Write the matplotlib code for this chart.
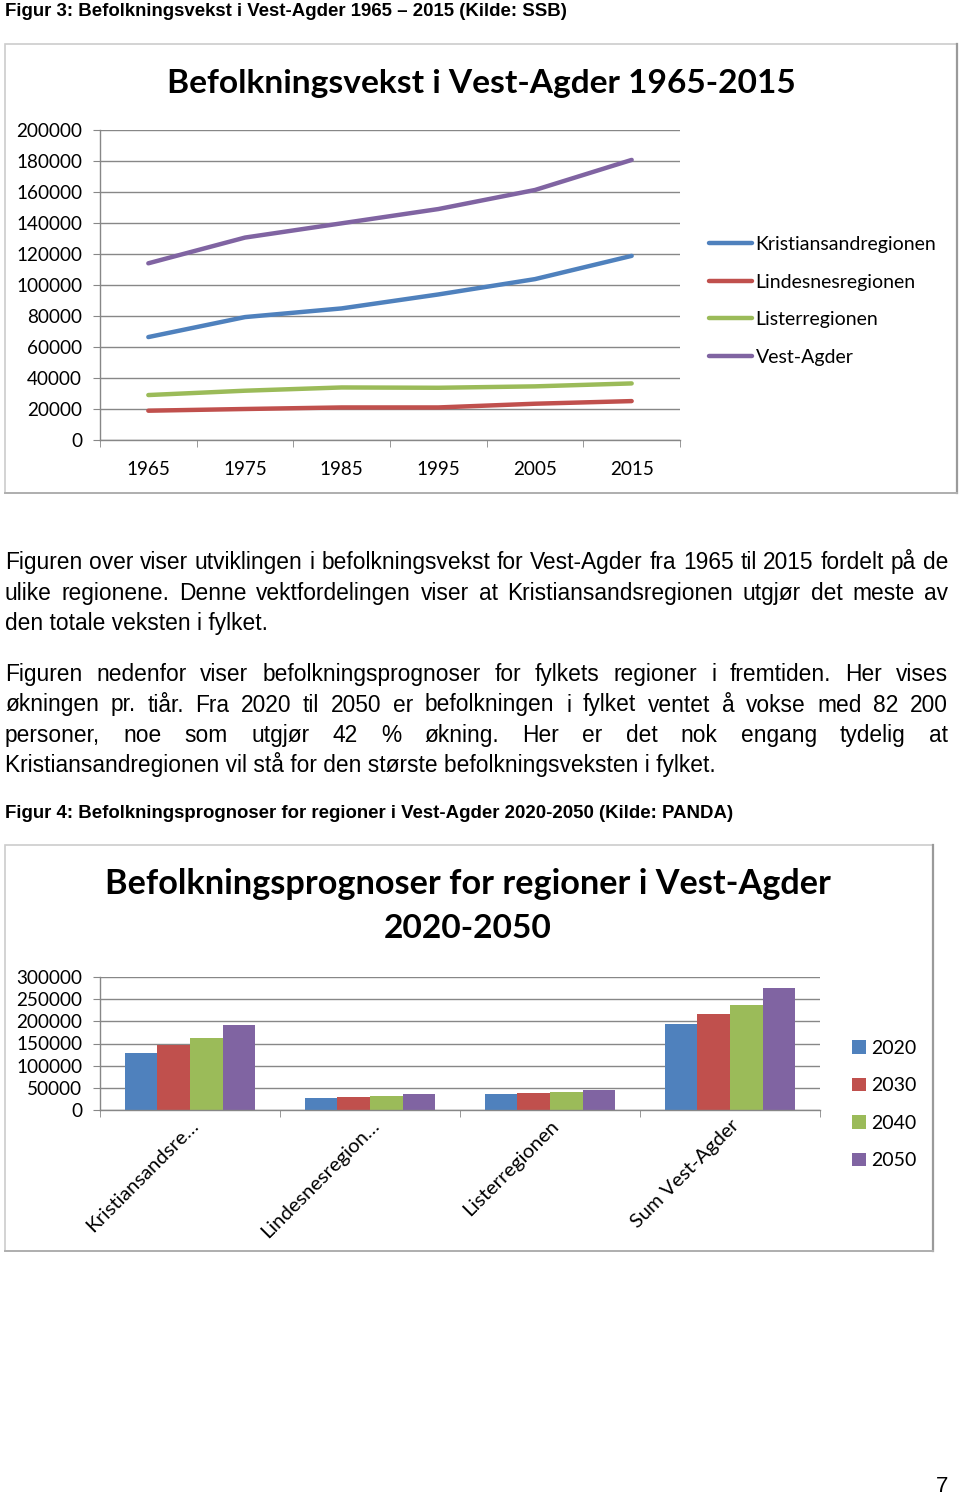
import matplotlib
matplotlib.use('Agg')
import matplotlib.pyplot as plt
from matplotlib.patches import Rectangle
from matplotlib.lines import Line2D
import numpy as np

W, H = 960, 1496

# Figur 3 - befolkning 1965-2015
years = ['1965', '1975', '1985', '1995', '2005', '2015']
kristiansand = [66400, 79300, 84900, 93900, 103800, 118800]
lindesnes = [18900, 20000, 21000, 21000, 23400, 25100]
lister = [29000, 31800, 33900, 33700, 34600, 36500]
vest_agder = [114000, 130600, 139800, 149000, 161300, 180700]
line_names = ['Kristiansandregionen', 'Lindesnesregionen', 'Listerregionen', 'Vest-Agder']

# Figur 4 - prognoser 2020-2050
regions = ['Kristiansandsre…', 'Lindesnesregion…', 'Listerregionen', 'Sum Vest-Agder']
prog_years = ['2020', '2030', '2040', '2050']
prog_2020 = [128800, 26500, 37100, 193900]
prog_2030 = [146200, 28800, 38600, 215900]
prog_2040 = [162900, 31000, 40900, 237100]
prog_2050 = [192400, 36400, 44700, 275800]

colors = ['#4F81BD', '#C0504D', '#9BBB59', '#8064A2']
grid_c = '#878787'
CHART = 'Lato'
BODY = 'Liberation Sans'

fig = plt.figure(figsize=(W / 100, H / 100), dpi=100)
renderer = fig.canvas.get_renderer()


def fx(x):
    return x / W


def fy(y):
    return 1 - y / H


def txt(x, y, s, **kw):
    return fig.text(fx(x), fy(y), s, **kw)


def fit(s, width, **kw):
    t = fig.text(0, 0, s, fontsize=10, **kw)
    w = t.get_window_extent(renderer).width
    t.remove()
    return 10 * width / w


def frame(x0, y0, x1, y1):
    fig.add_artist(Rectangle((fx(x0), fy(y1)), (x1 - x0) / W, (y1 - y0) / H,
                             transform=fig.transFigure, fill=False, ec='#cccccc', lw=1.2))
    fig.add_artist(Line2D([fx(x1), fx(x1)], [fy(y0), fy(y1)], transform=fig.transFigure,
                          color='#9a9a9a', lw=1.6))
    fig.add_artist(Line2D([fx(x0), fx(x1)], [fy(y1), fy(y1)], transform=fig.transFigure,
                          color='#b0b0b0', lw=1.4))


def body_line(s, y, justify=True, x0=5, x1=948, size=16.4):
    if not justify:
        txt(x0, y, s, family=BODY, fontsize=size, va='baseline')
        return
    words = s.split(' ')
    ts = [txt(0, y, w, family=BODY, fontsize=size, va='baseline') for w in words]
    ws = [t.get_window_extent(renderer).width for t in ts]
    gap = (x1 - x0 - sum(ws)) / (len(ws) - 1)
    x = x0
    for t, w in zip(ts, ws):
        t.set_x(fx(x))
        x += w + gap


def style_axes(ax):
    for s in ['top', 'right']:
        ax.spines[s].set_visible(False)
    for s in ['left', 'bottom']:
        ax.spines[s].set_color(grid_c)
        ax.spines[s].set_linewidth(1)
    ax.yaxis.grid(True, color=grid_c, lw=1)
    ax.set_axisbelow(True)
    ax.tick_params(axis='y', length=5, color=grid_c, pad=8, labelsize=13.6)
    for lab in ax.get_yticklabels() + ax.get_xticklabels():
        lab.set_family(CHART)


# captions
cap1 = 'Figur 3: Befolkningsvekst i Vest-Agder 1965 – 2015 (Kilde: SSB)'
cap2 = 'Figur 4: Befolkningsprognoser for regioner i Vest-Agder 2020-2050 (Kilde: PANDA)'
cs = fit(cap1, 567, family=BODY, weight='bold')
txt(5, 15.5, cap1, family=BODY, weight='bold', fontsize=cs, va='baseline')
txt(5, 817.5, cap2, family=BODY, weight='bold', fontsize=cs, va='baseline')

# ---------- chart 1 ----------
frame(5, 44, 957, 493)
t1 = 'Befolkningsvekst i Vest-Agder 1965-2015'
ts = fit(t1, 630, family=CHART, weight='bold')
txt(481, 84, t1, family=CHART, weight='bold', fontsize=ts, ha='center', va='center')

ax1 = fig.add_axes([fx(100), fy(440), (680 - 100) / W, (440 - 130) / H])
xs = np.arange(len(years))
for series, name, c in zip([kristiansand, lindesnes, lister, vest_agder], line_names, colors):
    ax1.plot(xs, series, color=c, lw=3.2, label=name, solid_capstyle='round')
ax1.set_xlim(-0.5, len(years) - 0.5)
ax1.set_ylim(0, 200000)
yt = list(range(0, 200001, 20000))
ax1.set_yticks(yt)
ax1.set_yticklabels([str(v) for v in yt])
ax1.set_xticks(xs)
ax1.set_xticklabels(years)
ax1.set_xticks(np.arange(-0.5, len(years)), minor=True)
ax1.tick_params(axis='x', which='major', length=0, pad=15, labelsize=13.6)
ax1.tick_params(axis='x', which='minor', length=5, color=grid_c)
style_axes(ax1)
ax1.legend(loc='upper left', bbox_to_anchor=(fx(709), fy(236)), bbox_transform=fig.transFigure,
           frameon=False, prop={'family': CHART, 'size': 14}, handlelength=2.2,
           handletextpad=0.2, labelspacing=1.06, borderpad=0, borderaxespad=0)

# ---------- text ----------
body_line('Figuren over viser utviklingen i befolkningsvekst for Vest-Agder fra 1965 til 2015 fordelt på de', 569)
body_line('ulike regionene. Denne vektfordelingen viser at Kristiansandsregionen utgjør det meste av', 600)
body_line('den totale veksten i fylket.', 630.5, justify=False)
body_line('Figuren nedenfor viser befolkningsprognoser for fylkets regioner i fremtiden. Her vises', 681)
body_line('økningen pr. tiår. Fra 2020 til 2050 er befolkningen i fylket ventet å vokse med 82 200', 711.5)
body_line('personer, noe som utgjør 42 % økning. Her er det nok engang tydelig at', 742)
body_line('Kristiansandregionen vil stå for den største befolkningsveksten i fylket.', 772, justify=False)

# ---------- chart 2 ----------
frame(5, 845, 933, 1251)
t2a = 'Befolkningsprognoser for regioner i Vest-Agder'
ts2 = fit(t2a, 727, family=CHART, weight='bold')
txt(468, 884, t2a, family=CHART, weight='bold', fontsize=ts2, ha='center', va='center')
txt(468, 929, '2020-2050', family=CHART, weight='bold', fontsize=ts, ha='center', va='center')

ax2 = fig.add_axes([fx(100), fy(1110), (820 - 100) / W, (1110 - 977) / H])
xr = np.arange(len(regions))
bw = 1 / 5.5
for i, (vals, yr, c) in enumerate(zip([prog_2020, prog_2030, prog_2040, prog_2050], prog_years, colors)):
    ax2.bar(xr + (i - 1.5) * bw, vals, width=bw, color=c, label=yr)
ax2.set_xlim(-0.5, len(regions) - 0.5)
ax2.set_ylim(0, 300000)
yt2 = list(range(0, 300001, 50000))
ax2.set_yticks(yt2)
ax2.set_yticklabels([str(v) for v in yt2])
ax2.set_xticks(xr)
ax2.set_xticklabels(regions, rotation=45, ha='right', va='top', rotation_mode='anchor')
ax2.set_xticks(np.arange(-0.5, len(regions)), minor=True)
ax2.tick_params(axis='x', which='major', length=0, pad=5, labelsize=14.5)
ax2.tick_params(axis='x', which='minor', length=5, color=grid_c)
style_axes(ax2)
ax2.legend(loc='upper left', bbox_to_anchor=(fx(852), fy(1040)), bbox_transform=fig.transFigure,
           frameon=False, prop={'family': CHART, 'size': 14}, handlelength=0.7, handleheight=0.7,
           handletextpad=0.3, labelspacing=1.05, borderpad=0, borderaxespad=0)

# page number
txt(948, 1492, '7', family=BODY, fontsize=16, ha='right', va='baseline')

fig.savefig('out.png', dpi=100)
